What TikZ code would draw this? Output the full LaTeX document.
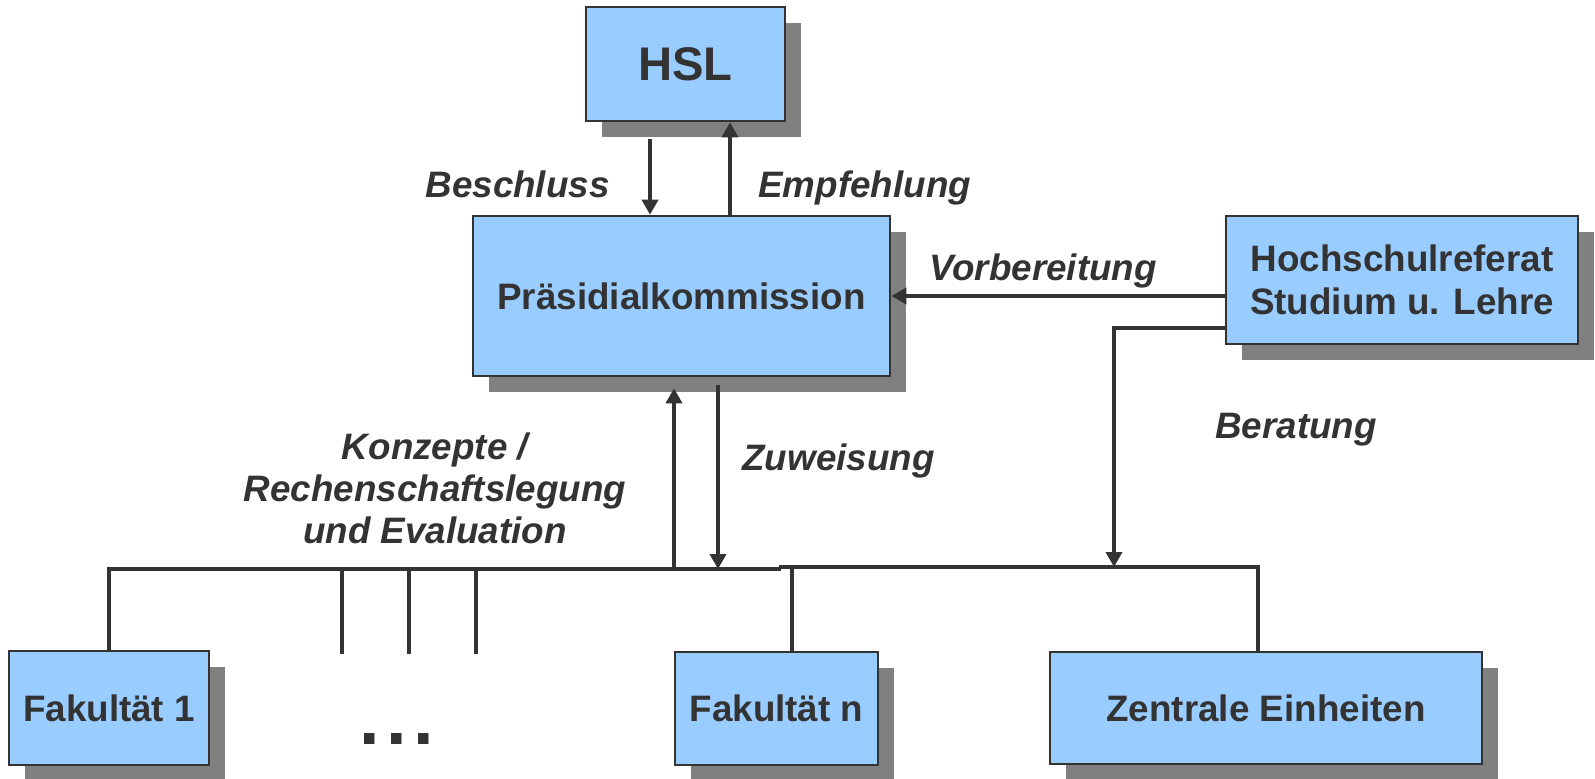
\documentclass[tikz,border=0pt]{standalone}
\usepackage{fontspec}
\setmainfont{Liberation Sans}
\usetikzlibrary{arrows.meta,shadows,calc}
\definecolor{boxblue}{HTML}{99CCFF}
\definecolor{inkgray}{HTML}{333333}
\definecolor{shadowgray}{HTML}{808080}
\tikzset{unit/.style={draw=inkgray,fill=boxblue,line width=1.3pt,text=inkgray,
                      align=center,inner sep=0pt,
                      font=\fontsize{18.4}{21.5}\selectfont\bfseries,
                      drop shadow={shadow xshift=8pt,shadow yshift=-8pt,
                                   fill=shadowgray,opacity=1}}}
\tikzset{link/.style={draw=inkgray,line width=1.8pt}}
\tikzset{flow/.style={link,-{Triangle[length=7.5pt,width=8pt]}}}
\tikzset{tag/.style={text=inkgray,inner sep=0pt,
                     font=\fontsize{18.4}{21}\selectfont\bfseries\itshape}}
\begin{document}
\begin{tikzpicture}[x=0.5pt,y=-0.5pt]
    \useasboundingbox (0,0) rectangle (1595,778);
    \node[unit,minimum width=99.5pt,minimum height=57pt,
          font=\fontsize{23.6}{28}\selectfont\bfseries] (hsl) at (685.5,64) {HSL};
    \node[unit,minimum width=208.5pt,minimum height=80pt] (praes) at (681.5,296) {Präsidialkommission};
    \node[unit,minimum width=176pt,minimum height=64pt] (hsr) at (1402,280) {Hochschulreferat\\Studium u. Lehre};
    \node[unit,minimum width=100pt,minimum height=57pt] (fak1) at (109,708) {Fakultät 1};
    \node[unit,minimum width=101.5pt,minimum height=56.5pt] (fakn) at (776.5,708.5) {Fakultät n};
    \node[unit,minimum width=216pt,minimum height=56pt] (zen) at (1266,708) {Zentrale Einheiten};
    \node[text=inkgray,inner sep=0pt,anchor=base,
          font=\fontsize{37}{40}\selectfont\bfseries] (dots) at (397,744) {.\kern3.2pt.\kern3.2pt.};
    % bus
    \coordinate (busB) at (781,569);
    \coordinate (busC) at (779,567);
    \coordinate (busD) at (1258,567);
    \coordinate (fakntop) at ($(fakn.north)+(15.5,0)$);
    \coordinate (up) at ($(praes.south)+(-7.5,11)$);
    \coordinate (down) at ($(praes.south)+(36.5,8)$);
    \coordinate (berat) at (1114,567);
    \draw[link] (fak1.north) |- (busB);
    \draw[link] (busC) -- (busD) -- (busD |- zen.north);
    \draw[link] (fakntop) -- (fakntop |- busC);
    \foreach \x [count=\i] in {342,409,476}{%
          \coordinate (t\i) at (\x,654);
          \draw[link] (t\i |- busB) -- (t\i);
        }
    % arrows
    \draw[flow] ($(hsl.south)+(-35.5,17)$) -- ($(praes.north)+(-31.5,0)$);
    \draw[flow] ($(praes.north)+(48.5,0)$) -- ($(hsl.south)+(44.5,0)$);
    \draw[flow] ($(hsr.west)+(0,16)$) -- (praes.east);
    \draw[flow] ($(hsr.west)+(0,48)$) -| (berat);
    \draw[flow] (up |- busB) -- (up);
    \draw[flow] (down) -- (down |- busB);
    % Labels
    \node[tag,anchor=base east] (beschluss) at (610,197) {Beschluss};
    \node[tag,anchor=base west] (empf) at (758,197) {Empfehlung};
    \node[tag,anchor=base] (vorb) at (1043,280) {Vorbereitung};
    \node[tag,anchor=base] (berlabel) at (1296,438) {Beratung};
    \node[tag,anchor=base west] (zuw) at (742,470) {Zuweisung};
    \node[tag,anchor=base,align=center] (konz) at (435,543)
          {Konzepte /\\Rechenschaftslegung\\und Evaluation};
\end{tikzpicture}
\end{document}
